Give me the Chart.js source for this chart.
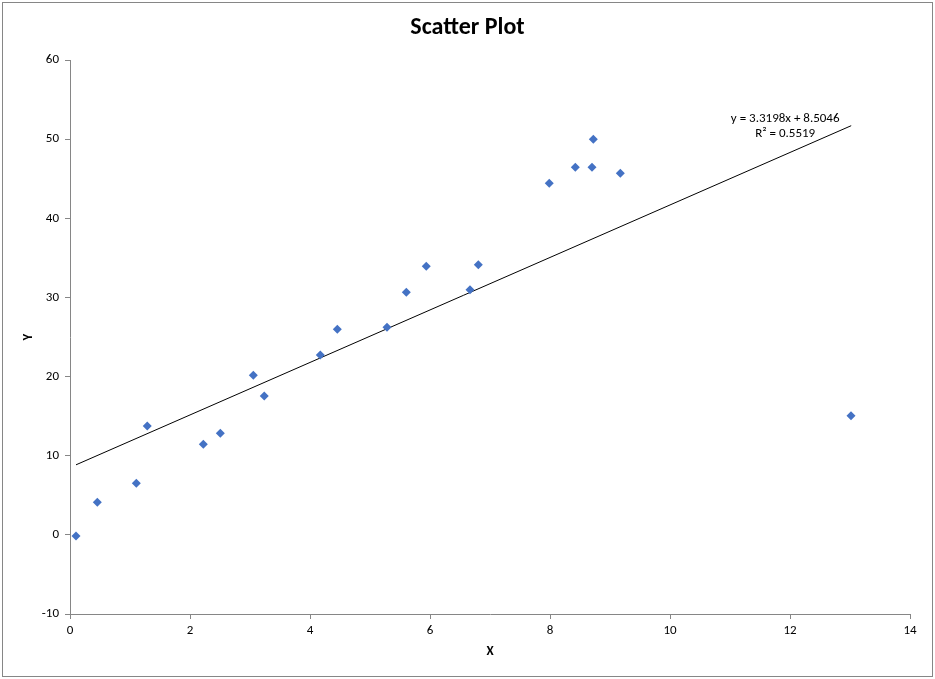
<!DOCTYPE html>
<html>
<head>
<meta charset="utf-8">
<script src="https://cdn.jsdelivr.net/npm/chart.js@4/dist/chart.umd.min.js"></script>
<style>
  html, body { margin: 0; padding: 0; background: #fff; }
  canvas { display: block; }
</style>
</head>
<body>
<canvas id="scatterChart" width="935" height="679"></canvas>
<script>
// data
const xValues = [0.1, 0.455, 1.105, 1.288, 2.222, 2.505, 3.055, 3.238, 4.172, 4.455, 5.283,
                 5.605, 5.938, 6.667, 6.805, 7.988, 8.422, 8.7, 8.722, 9.172, 13.017];
const yValues = [-0.16, 4.13, 6.53, 13.74, 11.46, 12.85, 20.18, 17.53, 22.71, 25.99, 26.24,
                 30.67, 33.95, 30.96, 34.12, 44.44, 46.46, 46.46, 50.0, 45.7, 15.04];
const trendX = [0.1, 13.02];
const trendY = [8.85, 51.7];
const trendLabel = ['y = 3.3198x + 8.5046', 'R\u00b2 = 0.5519'];
const trendLabelAt = { x: 11.92, y: [52.6, 50.7] };
const xTicks = [0, 2, 4, 6, 8, 10, 12, 14];
const yTicks = [-10, 0, 10, 20, 30, 40, 50, 60];
const chartTitle = 'Scatter Plot';

const FONT = 'Carlito, Calibri, Lato, "Open Sans", sans-serif';
const AXIS = '#868686';

const points = xValues.map((x, i) => ({ x, y: yValues[i] }));
const trend = trendX.map((x, i) => ({ x, y: trendY[i] }));

const decor = {
  id: 'decor',
  beforeDraw(chart) {
    const c = chart.ctx;
    c.save();
    c.fillStyle = '#fff';
    c.fillRect(0, 0, chart.width, chart.height);
    c.strokeStyle = AXIS;
    c.lineWidth = 1;
    c.strokeRect(2.5, 2.5, chart.width - 5, chart.height - 5);
    c.restore();
  },
  afterDraw(chart) {
    const c = chart.ctx;
    const xs = chart.scales.x, ys = chart.scales.y;
    c.save();
    c.fillStyle = '#000';
    c.textAlign = 'center';
    c.textBaseline = 'middle';
    c.font = 'bold 24px ' + FONT;
    c.fillText(chartTitle, chart.width / 2, 28);
    c.font = '13px ' + FONT;
    const lx = xs.getPixelForValue(trendLabelAt.x);
    trendLabel.forEach((t, i) => c.fillText(t, lx, ys.getPixelForValue(trendLabelAt.y[i])));
    c.restore();
  }
};

new Chart(document.getElementById('scatterChart'), {
  type: 'scatter',
  data: {
    datasets: [
      {
        label: 'Y',
        data: points,
        pointStyle: 'rectRot',
        pointRadius: 4.5,
        pointHoverRadius: 4.5,
        backgroundColor: '#4472C4',
        borderColor: '#4472C4',
        borderWidth: 0
      },
      {
        label: 'Trend',
        data: trend,
        type: 'line',
        showLine: true,
        borderColor: '#000',
        borderWidth: 1,
        pointRadius: 0,
        fill: false
      }
    ]
  },
  options: {
    responsive: false,
    animation: false,
    devicePixelRatio: 1,
    layout: { padding: { top: 60, right: 25, left: 0, bottom: 0 } },
    plugins: {
      legend: { display: false },
      title: { display: false },
      tooltip: { enabled: false }
    },
    scales: {
      x: {
        type: 'linear',
        min: 0, max: 14,
        afterFit: s => { s.height = 65; },
        afterBuildTicks: s => { s.ticks = xTicks.map(v => ({ value: v })); },
        border: { color: AXIS, width: 1 },
        grid: { drawOnChartArea: false, drawTicks: true, tickLength: 5, color: AXIS },
        ticks: { color: '#000', font: { family: FONT, size: 13 }, padding: 4, maxRotation: 0 },
        title: { display: true, text: 'X', color: '#000', font: { family: FONT, size: 13, weight: 'bold' }, padding: 19 }
      },
      y: {
        type: 'linear',
        min: -10, max: 60,
        afterFit: s => { s.width = 70; },
        afterBuildTicks: s => { s.ticks = yTicks.map(v => ({ value: v })); },
        border: { color: AXIS, width: 1 },
        grid: { drawOnChartArea: false, drawTicks: true, tickLength: 5, color: AXIS },
        ticks: { color: '#000', font: { family: FONT, size: 13 }, padding: 6 },
        title: { display: true, text: 'Y', color: '#000', font: { family: FONT, size: 13, weight: 'bold' }, padding: 21 }
      }
    }
  },
  plugins: [decor]
});
</script>
</body>
</html>
